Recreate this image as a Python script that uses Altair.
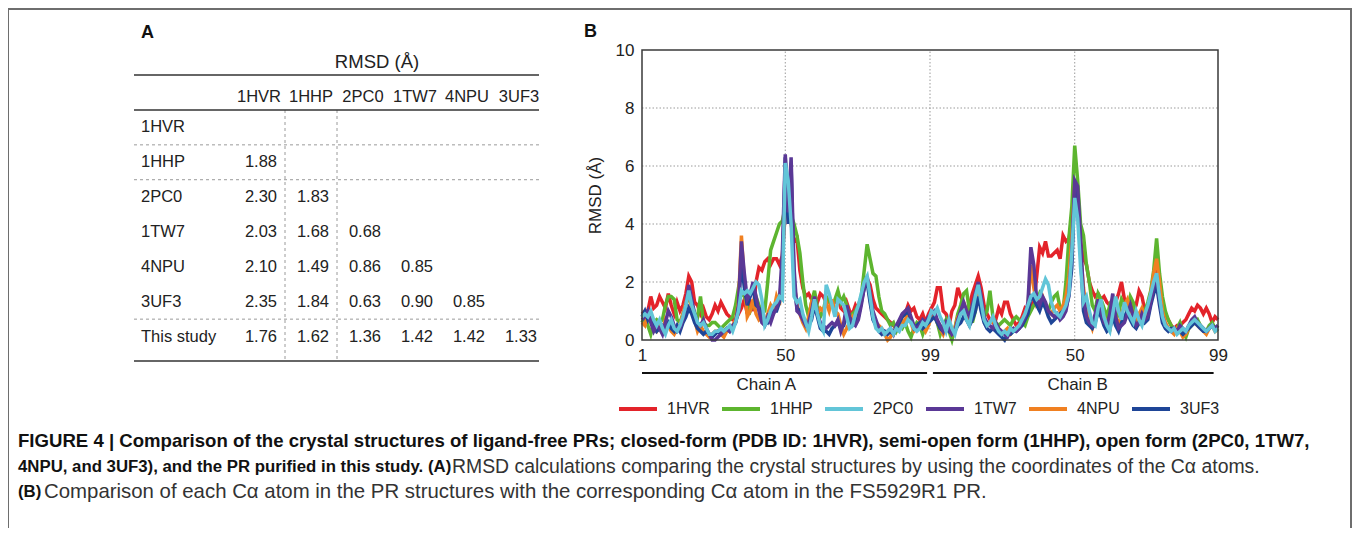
import altair as alt
import pandas as pd

# ---------------- data ----------------
SERIES = ["1HVR", "1HHP", "2PC0", "1TW7", "4NPU", "3UF3"]
COLORS = ["#e3232a", "#5db52f", "#62c5d8", "#5a3896", "#f08021", "#1e4597"]
DRAW_ORDER = ["1HVR", "1HHP", "4NPU", "3UF3", "1TW7", "2PC0"]

HVR_A = [0.9, 1.0, 1.0, 1.5, 1.1, 1.2, 1.5, 1.3, 1.1, 1.6,
         1.2, 0.9, 1.3, 1.0, 1.2, 1.6, 2.2, 2.0, 1.3, 1.2,
         0.9, 1.1, 0.8, 0.7, 0.9, 1.2, 1.0, 1.3, 1.1, 0.9,
         0.8, 0.7, 0.7, 0.9, 1.1, 1.4, 0.9, 1.3, 1.0, 2.0,
         2.5, 2.4, 2.7, 2.8, 2.6, 2.8, 2.8, 2.6, 2.9, 4.4,
         5.0, 4.0, 3.4, 3.5, 2.4, 1.8, 1.5, 1.6, 1.4, 1.5,
         1.3, 1.6, 1.5, 1.3, 1.4, 1.2, 1.3, 1.5, 1.1, 1.0,
         1.3, 1.0, 0.9, 1.2, 1.0, 1.4, 1.8, 2.1, 1.9, 1.4,
         1.1, 1.0, 0.9, 0.8, 0.7, 0.6, 0.5, 0.4, 0.6, 0.8,
         0.9, 1.2, 1.0, 1.1, 0.8, 0.7, 0.9, 0.6, 0.9]
HVR_B = [1.1, 1.3, 1.8, 1.8, 1.0, 0.9, 0.5, 1.0, 1.2, 1.8,
         1.5, 1.3, 1.0, 1.2, 1.6, 1.9, 2.2, 1.8, 1.2, 0.9,
         0.7, 0.6, 0.7, 1.1, 0.9, 1.3, 1.3, 0.9, 0.7, 0.5,
         0.6, 0.8, 1.1, 1.0, 1.2, 1.3, 2.2, 3.2, 3.0, 3.4,
         2.9, 2.9, 3.0, 3.1, 2.8, 3.6, 3.4, 3.5, 4.0, 5.2,
         4.4, 3.4, 2.8, 2.6, 2.0, 1.7, 1.5, 1.6, 1.4, 1.5,
         1.3, 1.2, 1.4, 1.3, 1.6, 2.0, 1.4, 1.2, 1.3, 1.0,
         1.2, 1.7, 1.5, 1.0, 1.2, 1.6, 2.0, 2.3, 1.8, 1.2,
         0.9, 0.7, 0.5, 0.4, 0.5, 0.5, 0.6, 0.7, 0.9, 1.1,
         1.0, 1.2, 1.1, 0.9, 1.1, 0.9, 0.6, 0.8, 0.7]

HHP_A = [0.6, 0.8, 0.5, 0.2, 0.6, 0.7, 0.6, 0.7, 1.2, 1.5,
         1.5, 1.4, 0.7, 0.6, 0.9, 1.2, 1.5, 1.3, 0.9, 0.8,
         1.5, 0.6, 0.5, 0.5, 0.6, 0.6, 0.5, 0.4, 0.5, 0.6,
         0.7, 0.8, 1.2, 1.8, 1.6, 1.5, 1.2, 1.0, 1.3, 1.5,
         1.2, 0.9, 1.0, 2.0, 3.1, 3.4, 3.7, 4.0, 4.1, 4.6,
         5.2, 4.3, 4.0, 3.6, 3.0, 2.0, 1.2, 0.8, 1.3, 1.7,
         1.1, 0.8, 1.0, 1.5, 1.3, 1.2, 1.4, 1.7, 1.3, 1.5,
         1.2, 0.7, 0.9, 1.0, 1.2, 1.5, 2.4, 3.3, 2.8, 2.3,
         2.2, 1.5, 1.0, 0.9, 0.7, 0.5, 0.6, 0.3, 0.5, 0.4,
         0.6, 0.3, 0.1, 0.4, 0.6, 0.5, 0.2, 0.5, 0.7]
HHP_B = [0.8, 0.9, 0.6, 0.2, 0.5, 0.7, 0.3, 0.0, 0.4, 0.9,
         1.2, 1.6, 1.7, 1.0, 0.6, 1.0, 1.5, 1.3, 0.8, 1.0,
         1.7, 0.8, 0.6, 0.5, 0.6, 0.7, 0.6, 0.5, 0.7, 0.8,
         0.7, 0.6, 0.5, 0.8, 1.0, 1.2, 1.3, 1.6, 1.4, 1.2,
         1.0, 1.3, 1.5, 1.6, 1.1, 1.0, 2.0, 3.5, 4.6, 6.7,
         5.5, 4.0, 3.6, 2.6, 2.0, 1.2, 1.0, 1.6, 1.4, 1.1,
         0.8, 1.2, 1.0, 0.7, 0.9, 1.4, 1.2, 1.0, 1.5, 1.3,
         0.9, 0.6, 0.8, 1.0, 1.3, 1.7, 2.4, 3.5, 2.3, 1.5,
         1.0, 0.7, 0.5, 0.3, 0.4, 0.6, 0.3, 0.1, 0.4, 0.5,
         0.6, 0.7, 0.5, 0.4, 0.3, 0.5, 0.6, 0.4, 0.3]

PC0_A = [0.8, 0.9, 0.8, 1.0, 0.7, 0.5, 0.7, 0.4, 0.2, 0.5,
         0.7, 0.4, 0.3, 0.5, 0.8, 1.2, 1.7, 1.2, 0.9, 0.6,
         0.5, 0.6, 0.4, 0.2, 0.2, 0.3, 0.3, 0.4, 0.3, 0.4,
         0.5, 0.3, 0.6, 1.0, 1.7, 1.6, 1.7, 1.6, 1.8, 2.0,
         1.9, 1.4, 0.5, 0.7, 1.0, 1.2, 1.3, 1.5, 1.4, 6.1,
         5.5, 4.0, 1.5, 1.3, 1.4, 0.9, 0.6, 0.3, 0.8, 1.4,
         0.9, 0.5, 0.3, 1.9, 1.6, 1.2, 0.8, 1.4, 1.3, 1.2,
         0.8, 0.4, 0.5, 0.9, 1.2, 1.6, 2.0, 2.2, 1.5, 0.8,
         0.4, 0.3, 0.4, 0.2, 0.3, 0.4, 0.2, 0.4, 0.3, 0.5,
         0.5, 0.7, 0.6, 0.4, 0.3, 0.4, 0.6, 0.5, 0.7]
PC0_B = [1.0, 0.9, 1.1, 0.8, 0.6, 0.3, 0.7, 0.4, 0.2, 0.6,
         0.9, 1.0, 0.7, 0.5, 1.0, 1.5, 1.9, 1.3, 0.7, 0.5,
         0.6, 0.8, 0.5, 0.3, 0.2, 0.3, 0.2, 0.4, 0.3, 0.4,
         0.5, 0.7, 0.9, 1.2, 1.5, 1.6, 1.4, 1.5, 1.8, 2.1,
         1.9, 1.3, 1.0, 0.9, 0.8, 1.0, 1.2, 1.6, 3.0, 4.9,
         4.2, 2.5, 1.3, 1.5, 1.0, 0.6, 0.5, 1.1, 1.4, 0.8,
         0.5, 0.3, 0.9, 1.5, 1.0, 0.7, 1.3, 1.0, 0.8, 0.6,
         1.0, 0.7, 0.5, 0.9, 1.2, 1.6, 2.0, 2.3, 1.5, 0.8,
         0.5, 0.4, 0.3, 0.4, 0.2, 0.3, 0.4, 0.3, 0.5, 0.6,
         0.7, 0.6, 0.5, 0.4, 0.3, 0.4, 0.5, 0.3, 0.4]

TW7_A = [0.7, 0.8, 1.0, 0.6, 0.3, 0.5, 0.4, 0.2, 0.6, 1.0,
         0.8, 0.5, 0.3, 0.4, 0.7, 1.2, 1.9, 1.4, 0.9, 0.6,
         0.5, 0.7, 0.4, 0.2, 0.0, 0.0, 0.1, 0.2, 0.3, 0.4,
         0.3, 0.5, 0.6, 1.2, 3.4, 2.3, 1.4, 1.6, 2.0, 1.5,
         1.0, 0.6, 0.5, 0.8, 0.6, 0.9, 1.1, 1.4, 3.0, 6.4,
         4.4, 6.3, 2.5, 1.0, 0.9, 0.7, 0.5, 0.6, 1.0, 1.5,
         0.9, 0.6, 0.5, 0.4, 0.5, 0.6, 0.5, 0.7, 0.3, 0.6,
         1.2, 0.8, 0.6, 0.5, 0.7, 1.2, 1.8, 2.2, 1.6, 1.0,
         0.7, 0.4, 0.3, 0.2, 0.3, 0.4, 0.2, 0.5, 0.7, 0.9,
         1.0, 1.1, 0.8, 0.5, 0.4, 0.5, 0.7, 0.6, 0.8]
TW7_B = [0.9, 1.0, 0.7, 0.5, 0.3, 0.6, 0.4, 0.2, 0.3, 0.7,
         1.0, 1.3, 1.0, 0.8, 1.2, 1.6, 2.0, 1.5, 0.8, 0.6,
         0.5, 0.4, 0.6, 0.4, 0.3, 0.2, 0.1, 0.3, 0.4, 0.3,
         0.4, 0.6, 0.8, 1.3, 3.2, 2.6, 1.4, 1.2, 1.5, 1.3,
         1.0, 0.9, 0.8, 0.9, 0.7, 0.8, 1.0, 1.6, 3.0, 5.5,
         5.3, 3.5, 1.5, 0.8, 0.6, 0.5, 0.9, 1.4, 1.0, 0.6,
         0.5, 0.9, 1.6, 0.8, 0.4, 0.5, 0.6, 0.9, 1.2, 0.8,
         0.5, 0.6, 0.9, 0.7, 0.8, 1.3, 1.8, 2.2, 1.4, 0.8,
         0.5, 0.4, 0.3, 0.4, 0.3, 0.5, 0.4, 0.3, 0.5, 0.7,
         0.8, 0.6, 0.5, 0.4, 0.3, 0.4, 0.5, 0.4, 0.5]

NPU_A = [0.6, 0.5, 0.9, 0.7, 0.4, 0.3, 0.5, 0.3, 0.7, 0.5,
         0.3, 0.2, 0.4, 0.5, 0.9, 1.3, 1.6, 1.1, 0.7, 0.3,
         0.5, 0.3, 0.2, 0.1, 0.2, 0.3, 0.3, 0.2, 0.1, 0.3,
         0.4, 0.5, 0.7, 1.3, 3.6, 2.0, 0.8, 1.0, 1.4, 0.9,
         0.7, 0.8, 0.6, 0.9, 1.2, 1.0, 1.5, 1.2, 2.5, 5.5,
         4.5, 5.0, 2.0, 1.2, 0.9, 0.6, 0.4, 0.8, 1.3, 1.2,
         0.9, 1.1, 1.0, 1.3, 1.0, 1.4, 1.0, 0.9, 0.5, 0.2,
         0.4, 0.6, 0.8, 0.6, 0.9, 1.4, 1.9, 2.1, 1.4, 0.8,
         0.6, 0.5, 0.4, 0.2, 0.0, 0.1, 0.3, 0.4, 0.5, 0.6,
         0.7, 0.9, 0.6, 0.3, 0.4, 0.6, 0.5, 0.3, 0.5]
NPU_B = [0.8, 0.9, 0.6, 0.4, 0.2, 0.5, 0.3, 0.2, 0.4, 0.8,
         0.9, 1.1, 0.8, 0.6, 1.0, 1.4, 1.8, 1.3, 0.7, 0.5,
         0.6, 0.7, 0.4, 0.3, 0.2, 0.3, 0.4, 0.2, 0.3, 0.4,
         0.5, 0.6, 0.8, 1.2, 2.6, 1.8, 1.2, 1.3, 1.5, 1.2,
         1.0, 0.9, 1.1, 1.2, 1.0, 1.2, 1.5, 2.2, 3.5, 5.4,
         4.8, 3.0, 1.8, 1.0, 0.7, 0.4, 0.8, 1.3, 1.1, 0.8,
         0.6, 0.3, 1.2, 0.8, 0.5, 0.9, 1.2, 1.4, 1.0, 0.7,
         0.6, 0.9, 1.1, 0.8, 1.0, 1.6, 2.3, 2.8, 2.0, 1.0,
         0.6, 0.4, 0.3, 0.2, 0.4, 0.3, 0.1, 0.2, 0.4, 0.6,
         0.6, 0.5, 0.4, 0.3, 0.2, 0.4, 0.5, 0.3, 0.4]

UF3_A = [0.8, 1.0, 0.7, 0.9, 0.5, 0.3, 0.4, 0.5, 0.4, 0.6,
         0.4, 0.3, 0.5, 0.3, 0.6, 0.8, 1.1, 0.9, 0.6, 0.4,
         0.3, 0.2, 0.3, 0.2, 0.1, 0.2, 0.3, 0.2, 0.3, 0.4,
         0.3, 0.4, 0.6, 1.0, 2.8, 1.8, 1.2, 1.5, 1.8, 1.2,
         1.1, 0.9, 0.7, 0.6, 0.8, 1.0, 1.0, 1.3, 2.0, 6.3,
         4.0, 6.0, 2.0, 1.1, 1.0, 0.8, 0.6, 0.5, 0.7, 1.2,
         0.8, 0.4, 0.3, 0.3, 0.2, 0.4, 0.5, 0.6, 0.4, 0.5,
         0.9, 0.7, 0.5, 0.6, 0.8, 1.3, 1.8, 2.0, 1.3, 0.7,
         0.5, 0.3, 0.2, 0.3, 0.2, 0.3, 0.2, 0.4, 0.6, 0.8,
         0.9, 1.0, 0.7, 0.4, 0.5, 0.6, 0.4, 0.5, 0.6]
UF3_B = [0.7, 0.8, 0.6, 0.4, 0.3, 0.4, 0.3, 0.2, 0.3, 0.5,
         0.6, 0.8, 0.7, 0.5, 0.7, 1.0, 1.5, 1.0, 0.6, 0.4,
         0.3, 0.4, 0.3, 0.2, 0.1, 0.0, 0.2, 0.2, 0.3, 0.3,
         0.4, 0.5, 0.7, 0.9, 1.5, 1.4, 1.2, 1.0, 1.3, 1.1,
         0.8, 0.6, 0.7, 0.8, 0.9, 1.0, 1.1, 1.5, 2.5, 5.3,
         5.0, 3.0, 1.0, 0.6, 0.5, 0.4, 0.6, 1.0, 0.8, 0.5,
         0.3, 0.4, 0.8, 0.5, 0.3, 0.6, 0.8, 1.0, 0.7, 0.5,
         0.4, 0.6, 0.8, 0.6, 0.7, 1.2, 1.6, 1.9, 1.2, 0.6,
         0.4, 0.3, 0.4, 0.4, 0.3, 0.3, 0.2, 0.3, 0.4, 0.5,
         0.6, 0.5, 0.4, 0.3, 0.3, 0.4, 0.5, 0.4, 0.5]

SERIES_VALUES = {
    "1HVR": HVR_A + HVR_B,
    "1HHP": HHP_A + HHP_B,
    "2PC0": PC0_A + PC0_B,
    "1TW7": TW7_A + TW7_B,
    "4NPU": NPU_A + NPU_B,
    "3UF3": UF3_A + UF3_B,
}

TICK_VALUES = [1, 50, 99.5, 149, 198]
TICK_LABELS = ["1", "50", "99", "50", "99"]
GRID_Y = [2, 4, 6, 8]
GRID_X = [50, 99.5, 149]
CHAINS = ["Chain A", "Chain B"]
CHAIN_START = [1, 100.5]
CHAIN_END = [98.5, 196.5]
CHAIN_LABEL_AT = [43.5, 150]

TABLE_ROWS = ["1HVR", "1HHP", "2PC0", "1TW7", "4NPU", "3UF3", "This study"]
TABLE_COLS = ["1HVR", "1HHP", "2PC0", "1TW7", "4NPU", "3UF3"]
TABLE_VALUES = {
    "1HHP": [1.88],
    "2PC0": [2.30, 1.83],
    "1TW7": [2.03, 1.68, 0.68],
    "4NPU": [2.10, 1.49, 0.86, 0.85],
    "3UF3": [2.35, 1.84, 0.63, 0.90, 0.85],
    "This study": [1.76, 1.62, 1.36, 1.42, 1.42, 1.33],
}
ROW_SEPARATORS = ["1HHP", "2PC0", "This study"]
COL_SEPARATORS = ["1HHP", "2PC0"]

CAP_1 = ("FIGURE 4 | Comparison of the crystal structures of ligand-free PRs; closed-form (PDB ID: 1HVR), "
         "semi-open form (1HHP), open form (2PC0, 1TW7,")
CAP_2B = "4NPU, and 3UF3), and the PR purified in this study. (A)"
CAP_2N = "RMSD calculations comparing the crystal structures by using the coordinates of the C\u03b1 atoms."
CAP_3B = "(B)"
CAP_3N = "Comparison of each C\u03b1 atom in the PR structures with the corresponding C\u03b1 atom in the FS5929R1 PR."

# ---------------- build tables ----------------
line_rows = []
for name in SERIES:
    for k, v in enumerate(SERIES_VALUES[name]):
        line_rows.append({"series": name, "pos": k + 1, "rmsd": v})
line_df = pd.DataFrame(line_rows)

cell_rows = []
for r, vals in TABLE_VALUES.items():
    for c, v in zip(TABLE_COLS, vals):
        cell_rows.append({"row": r, "col": c, "val": f"{v:.2f}"})
cell_df = pd.DataFrame(cell_rows)

FONT = "Liberation Sans"
W, H = 1344, 520

# ---------------- panel B ----------------
xs = alt.Scale(domain=[1, 198], range=[634, 1210], nice=False, zero=False)
ys = alt.Scale(domain=[0, 10], range=[332, 42], nice=False, zero=False)
cs = alt.Scale(domain=SERIES, range=COLORS)

label_map = "{" + ",".join(f"'{v}':'{t}'" for v, t in zip(TICK_VALUES, TICK_LABELS)) + "}"
xaxis = alt.Axis(orient="bottom", offset=332 - H, values=TICK_VALUES,
                 labelExpr=f"{label_map}[''+datum.value]", title=None,
                 grid=False, ticks=False, domain=False, labelFontSize=17, labelFont=FONT,
                 labelColor="#222", labelPadding=7, labelFlush=False, labelOverlap=False,
                 labelBound=False)
yaxis = alt.Axis(orient="left", offset=-634, values=[0, 2, 4, 6, 8, 10], title="RMSD (\u00c5)",
                 grid=False, ticks=False, domain=False, labelFontSize=17, labelFont=FONT,
                 labelColor="#222", labelPadding=8, titleFontSize=17, titleFont=FONT,
                 titleFontWeight="normal", titleColor="#222", titlePadding=11)
legend = alt.Legend(orient="none", legendX=609, legendY=380, direction="horizontal",
                    symbolType="stroke", symbolSize=1444, symbolStrokeWidth=4,
                    labelFontSize=16, labelFont=FONT, labelColor="#222", title=None,
                    columnPadding=4, labelOffset=8, padding=0)

gridh = alt.Chart(pd.DataFrame({"rmsd": GRID_Y, "p0": 1, "p1": 198})).mark_rule(
    color="#9a9a9a", strokeDash=[1.5, 2], strokeWidth=1).encode(
    x=alt.X("p0:Q", scale=xs, axis=xaxis), x2="p1:Q",
    y=alt.Y("rmsd:Q", scale=ys, axis=yaxis))
gridv = alt.Chart(pd.DataFrame({"pos": GRID_X, "r0": 0, "r1": 10})).mark_rule(
    color="#9a9a9a", strokeDash=[1.5, 2], strokeWidth=1).encode(
    x=alt.X("pos:Q", scale=xs, axis=xaxis),
    y=alt.Y("r0:Q", scale=ys, axis=yaxis), y2="r1:Q")

series_layers = []
for s in DRAW_ORDER:
    series_layers.append(
        alt.Chart(line_df).transform_filter(alt.datum.series == s).mark_line(strokeWidth=3.5).encode(
            x=alt.X("pos:Q", scale=xs, axis=xaxis),
            y=alt.Y("rmsd:Q", scale=ys, axis=yaxis),
            color=alt.Color("series:N", scale=cs, legend=legend),
        ))

frame = alt.Chart(pd.DataFrame({"p0": [1], "p1": [198], "r0": [0], "r1": [10]})).mark_rect(
    filled=False, stroke="#3a3a3a", strokeWidth=1.5).encode(
    x=alt.X("p0:Q", scale=xs, axis=xaxis), x2="p1:Q",
    y=alt.Y("r0:Q", scale=ys, axis=yaxis), y2="r1:Q")

chain_df = pd.DataFrame({"chain": CHAINS, "start": CHAIN_START, "end": CHAIN_END, "at": CHAIN_LABEL_AT})
chain_rules = alt.Chart(chain_df).mark_rule(color="#111", strokeWidth=2).encode(
    x=alt.X("start:Q", scale=xs, axis=xaxis), x2="end:Q", y=alt.value(365))
chain_text = alt.Chart(chain_df).mark_text(font=FONT, fontSize=17, color="#222").encode(
    x=alt.X("at:Q", scale=xs, axis=xaxis), y=alt.value(377), text="chain:N")

panel_b = alt.layer(gridh, gridv, *series_layers, frame, chain_rules, chain_text)

# ---------------- panel A (table) ----------------
col_scale = alt.Scale(type="band", domain=TABLE_COLS, range=[225, 537], paddingInner=0, paddingOuter=0)
row_scale = alt.Scale(type="band", domain=TABLE_ROWS, range=[102, 346], paddingInner=0, paddingOuter=0)

headers = alt.Chart(pd.DataFrame({"col": TABLE_COLS})).mark_text(
    font=FONT, fontSize=16.5, color="#222").encode(
    x=alt.X("col:N", scale=col_scale, axis=None), y=alt.value(89), text="col:N")
row_labels = alt.Chart(pd.DataFrame({"row": TABLE_ROWS})).mark_text(
    font=FONT, fontSize=16.5, color="#222", align="left").encode(
    x=alt.value(133), y=alt.Y("row:N", scale=row_scale, axis=None), text="row:N")
cells = alt.Chart(cell_df).mark_text(font=FONT, fontSize=16.5, color="#222", dx=2).encode(
    x=alt.X("col:N", scale=col_scale, axis=None),
    y=alt.Y("row:N", scale=row_scale, axis=None), text="val:N")
row_sep = alt.Chart(pd.DataFrame({"row": ROW_SEPARATORS})).mark_rule(
    color="#9a9a9a", strokeDash=[3, 3], strokeWidth=1).encode(
    y=alt.Y("row:N", scale=row_scale, axis=None, bandPosition=0),
    x=alt.value(126), x2=alt.value(531))
col_sep = alt.Chart(pd.DataFrame({"col": COL_SEPARATORS})).mark_rule(
    color="#9a9a9a", strokeDash=[3, 3], strokeWidth=1).encode(
    x=alt.X("col:N", scale=col_scale, axis=None, bandPosition=0),
    y=alt.value(102), y2=alt.value(353))

panel_a = alt.layer(row_sep, col_sep, headers, row_labels, cells)


# ---------------- annotations ----------------
def text_at(txt, x, y, size, weight="normal", font=FONT, color="#222", align="left"):
    return alt.Chart(pd.DataFrame({"t": [txt]})).mark_text(
        font=font, fontSize=size, fontWeight=weight, color=color, align=align,
        baseline="middle").encode(x=alt.value(x), y=alt.value(y), text="t:N")


def hrule(y, x0, x1, color="#333", width=1.5):
    return alt.Chart(pd.DataFrame({"k": [0]})).mark_rule(color=color, strokeWidth=width).encode(
        x=alt.value(x0), x2=alt.value(x1), y=alt.value(y))


def vrule(x, y0, y1, color="#6e6e6e", width=2):
    return alt.Chart(pd.DataFrame({"k": [0]})).mark_rule(color=color, strokeWidth=width).encode(
        x=alt.value(x), y=alt.value(y0), y2=alt.value(y1))


notes = [
    text_at("A", 133, 25, 18, "bold", color="#111"),
    text_at("B", 576, 24, 18, "bold", color="#111"),
    text_at("RMSD (\u00c5)", 369, 54, 18.5, align="center"),
    hrule(67, 126, 531), hrule(102, 126, 531), hrule(353, 126, 531),
    text_at(CAP_1, 10, 433, 18.6, "bold", FONT, "#111"),
    text_at(CAP_2B, 10, 459, 16.8, "bold", FONT, "#111"),
    text_at(CAP_2N, 444, 459, 19.4, "normal", FONT, "#333"),
    text_at(CAP_3B, 10, 484, 16.8, "bold", FONT, "#111"),
    text_at(CAP_3N, 36, 484, 20.4, "normal", FONT, "#333"),
    vrule(0, 0, H), vrule(1343, 0, H), hrule(1, 0, 1344, "#6e6e6e", 2),
]

chart = alt.layer(panel_a, panel_b, *notes).resolve_scale(
    x="independent", y="independent"
).properties(
    width=W, height=H, autosize=alt.AutoSizeParams(type="none"), padding=0
).configure_view(stroke=None).configure(background="white")

chart.save("out.html", embed_options={"renderer": "svg", "actions": False})
